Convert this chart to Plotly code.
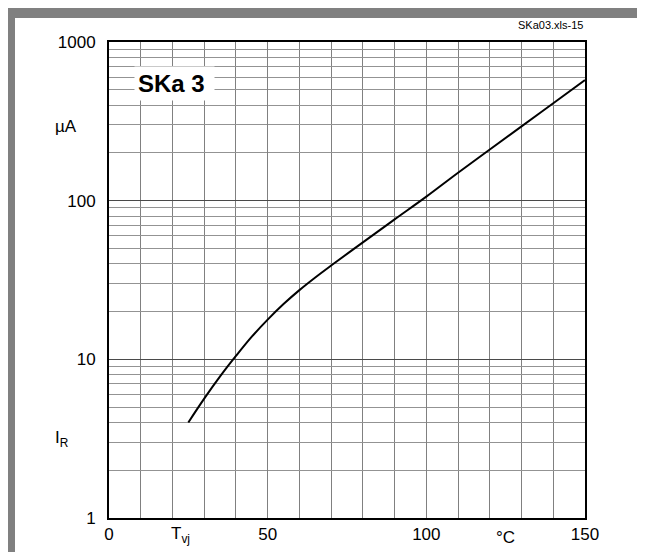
import plotly.graph_objects as go

# Data (junction temperature in °C, reverse current in µA)
temp_c = [25, 30, 35, 40, 45, 50, 55, 60, 65, 70, 80, 90, 100, 110, 120, 130, 140, 150]
ir_ua = [4.0, 5.65, 7.80, 10.5, 13.9, 17.8, 22.3, 27.3, 32.8, 39.0, 54.6, 76.2, 106, 150, 210, 294, 411, 575]

x_tickvals = [0, 50, 100, 150]
x_ticktext = ["0", "50", "100", "150"]
y_tickvals = [1, 10, 100, 1000]
y_ticktext = ["1", "10", "100", "1000"]

FONT = "Liberation Sans, Arial, sans-serif"

fig = go.Figure()
fig.add_trace(go.Scatter(x=temp_c, y=ir_ua, mode="lines",
                         line=dict(color="black", width=2, shape="spline", smoothing=1),
                         showlegend=False, hoverinfo="skip"))

L, R, T, B = 101, 68, 34, 42
W, H = 645, 552
pw, ph = W - L - R, H - T - B

fig.update_layout(
    width=W, height=H,
    margin=dict(l=L, r=R, t=T, b=B, pad=0),
    paper_bgcolor="#808080",
    plot_bgcolor="white",
    font=dict(family=FONT, size=17, color="black"),
    xaxis=dict(range=[0, 150], tickvals=x_tickvals, ticktext=x_ticktext,
               showgrid=True, gridcolor="#808080", gridwidth=1,
               minor=dict(dtick=10, showgrid=True, gridcolor="#808080", gridwidth=1, ticks=""),
               showline=True, linecolor="black", linewidth=2, mirror=True,
               ticks="", zeroline=False, ticklabelstandoff=0),
    yaxis=dict(type="log", range=[0, 3], tickvals=y_tickvals, ticktext=y_ticktext,
               showgrid=True, gridcolor="#4a4a4a", gridwidth=1,
               minor=dict(dtick="D1", showgrid=True, gridcolor="#939393", gridwidth=1, ticks=""),
               showline=True, linecolor="black", linewidth=2, mirror=True,
               ticks="", zeroline=False, ticklabelstandoff=8),
)

# white page area inside grey frame
fig.add_shape(type="rect", xref="paper", yref="paper", layer="below",
              x0=(7 - L) / pw, x1=(642 - L) / pw,
              y0=(H - B - 560) / ph, y1=(H - B - 10) / ph,
              fillcolor="white", line=dict(width=0))

annots = [
    dict(x=20.5, y=2.74, xref="x", yref="y", text="<b>SKa 3&nbsp;</b>",
         font=dict(size=24), bgcolor="white", borderpad=3, showarrow=False),
    dict(x=(577 - L) / pw, y=(H - B - 17) / ph, xref="paper", yref="paper",
         text="SKa03.xls-15", font=dict(size=11), xanchor="right", yanchor="middle",
         showarrow=False),
    dict(x=(45 - L) / pw, y=2.47, xref="paper", yref="y", text="µA",
         xanchor="left", showarrow=False),
    dict(x=(45 - L) / pw, y=0.50, xref="paper", yref="y", text="I<sub>R</sub>",
         xanchor="left", showarrow=False),
    dict(x=22.5, y=(H - B - 540) / ph, xref="x", yref="paper", text="T<sub>vj</sub>",
         showarrow=False),
    dict(x=125, y=(H - B - 541) / ph, xref="x", yref="paper", text="°C",
         showarrow=False),
]
for a in annots:
    fig.add_annotation(**a)

fig.write_html("out.html")
